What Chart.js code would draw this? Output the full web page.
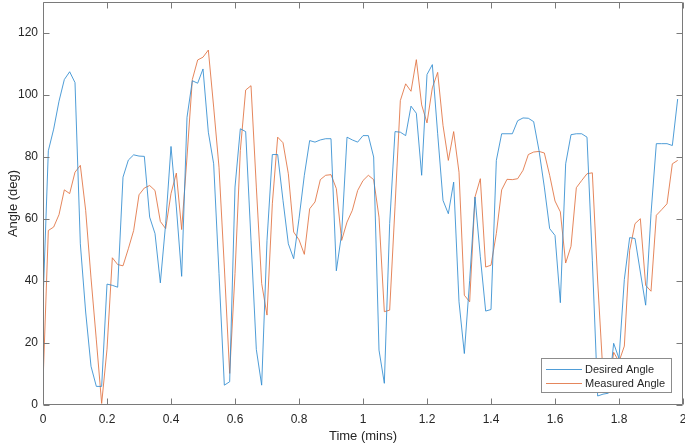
<!DOCTYPE html>
<html>
<head>
<meta charset="utf-8">
<script src="https://cdn.jsdelivr.net/npm/chart.js@4"></script>
<style>
html,body{margin:0;padding:0;background:#fff;}
canvas{display:block;}
</style>
</head>
<body>
<canvas id="c" width="685" height="444"></canvas>
<script>
// Sample grid: one sample per second over 2 minutes (x in minutes)
const sampleCount = 120;
const timeMins = Array.from({length: sampleCount}, (_, i) => i / 60);

const desiredAngle = [
  33, 82, 89, 98, 105, 107.5, 104, 52, 30, 12.5,
  6, 6, 39, 38.6, 38, 73.5, 79, 80.7, 80.3, 80.2,
  60.6, 55.3, 39.4, 58.5, 83.4, 63.9, 41.5, 92.8, 104.6, 103.8,
  108.4, 88, 77.8, 42.4, 6.4, 7.5, 70.3, 89.1, 88.2, 53.1,
  17.9, 6.4, 53.1, 80.8, 80.8, 66, 52, 47.2, 60.1, 74.1,
  85.3, 84.8, 85.5, 85.9, 85.9, 43.3, 55.3, 86.4, 85.5, 84.8,
  86.9, 86.9, 80, 17.7, 7, 58.5, 88.2, 88, 86.9, 96.4,
  94.1, 74.1, 106.6, 109.8, 87.5, 66, 61.7, 71.9, 33.3, 16.6,
  40.2, 67.1, 47.8, 30.3, 30.8, 78.9, 87.5, 87.5, 87.5, 91.7,
  92.6, 92.5, 91.4, 82.1, 70.3, 56.9, 54.7, 33, 77.8, 87.2,
  87.5, 87.5, 86.4, 46.7, 2.9, 3.5, 3.8, 19.9, 15, 40.5,
  54, 53.7, 42.9, 32.2, 61.7, 84.3, 84.3, 84.3, 83.7, 98.7
];

const measuredAngle = [
  7, 56.3, 57.4, 61.4, 69.4, 68.2, 75.1, 77.3, 62.8, 41,
  21, 0.5, 18, 47.5, 45.3, 44.9, 50.4, 56.3, 67.8, 70,
  70.8, 69.2, 59.2, 56.9, 68.2, 74.8, 56.6, 80, 105, 111.3,
  112.2, 114.5, 96.1, 76.7, 44.5, 10.2, 42.4, 82.1, 101.6, 103,
  70.3, 39.2, 29, 64.9, 86.4, 84.6, 74.6, 55.8, 53.3, 48.6,
  63.3, 65.5, 72.7, 74.1, 74.3, 69.8, 53.1, 59, 62.8, 69.2,
  72.4, 74.1, 72.7, 60.6, 30.1, 30.6, 63.9, 98.2, 103.6, 101.2,
  111.4, 96.8, 91, 102.3, 107.3, 90.2, 78.9, 88.2, 75.1, 35.4,
  33.3, 67.1, 73, 44.5, 45.1, 55.3, 69.4, 72.8, 72.7, 73,
  75.7, 80.8, 81.6, 81.8, 81.3, 74.1, 65.8, 62.3, 45.8, 51.2,
  70.1, 72.4, 74.6, 74.9, 40, 10, 4, 17, 14, 19,
  49.9, 58.5, 60.1, 38.6, 36.7, 61.2, 63, 64.9, 77.8, 78.9
];

const xTicks = [0, 0.2, 0.4, 0.6, 0.8, 1, 1.2, 1.4, 1.6, 1.8, 2];
const xTickLabels = ['0', '0.2', '0.4', '0.6', '0.8', '1', '1.2', '1.4', '1.6', '1.8', '2'];
const yTicks = [0, 20, 40, 60, 80, 100, 120];
const yTickLabels = ['0', '20', '40', '60', '80', '100', '120'];
const seriesNames = ['Desired Angle', 'Measured Angle'];
const seriesColors = ['#2f8bd0', '#e0703f'];

const AXIS_COLOR = '#7a7a7a';
const TEXT_COLOR = '#262626';
const FONT = 'Arial, "Liberation Sans", Helvetica, sans-serif';
const LINE_W = 0.85;

const boxTicksPlugin = {
  id: 'boxTicks',
  afterDatasetsDraw(chart) {
    const {ctx, chartArea: a, scales: {x, y}} = chart;
    ctx.save();
    ctx.strokeStyle = AXIS_COLOR;
    ctx.lineWidth = 1;
    ctx.beginPath();
    const L = Math.round(a.left) + 0.5, R = Math.round(a.right) - 0.5;
    const T = Math.round(a.top) + 0.5, B = Math.round(a.bottom) - 0.5;
    ctx.rect(L, T, R - L, B - T);
    const tl = 6;
    xTicks.forEach(v => {
      const px = Math.round(x.getPixelForValue(v)) + 0.5;
      ctx.moveTo(px, B); ctx.lineTo(px, B - tl);
      ctx.moveTo(px, T); ctx.lineTo(px, T + tl);
    });
    yTicks.forEach(v => {
      const py = Math.round(y.getPixelForValue(v)) + 0.5;
      ctx.moveTo(L, py); ctx.lineTo(L + tl, py);
      ctx.moveTo(R, py); ctx.lineTo(R - tl, py);
    });
    ctx.stroke();

    // Legend box (inside plot, bottom-right)
    const lx = 541.5, ly = 358.5, lw = 130, lh = 34;
    ctx.fillStyle = '#ffffff';
    ctx.fillRect(lx, ly, lw, lh);
    ctx.strokeStyle = '#8c8c8c';
    ctx.strokeRect(lx, ly, lw, lh);
    ctx.font = '11px ' + FONT;
    ctx.textBaseline = 'middle';
    ctx.textAlign = 'left';
    const rows = [369.5, 383.5];
    seriesNames.forEach((name, i) => {
      ctx.strokeStyle = seriesColors[i];
      ctx.lineWidth = LINE_W;
      ctx.beginPath();
      ctx.moveTo(546, rows[i]);
      ctx.lineTo(582, rows[i]);
      ctx.stroke();
      ctx.fillStyle = TEXT_COLOR;
      ctx.fillText(name, 585, rows[i] + 0.5);
    });
    ctx.restore();
  }
};

function zeroPad(s) {
  s.paddingTop = 0; s.paddingBottom = 0; s.paddingLeft = 0; s.paddingRight = 0;
}

new Chart(document.getElementById('c'), {
  type: 'line',
  data: {
    labels: timeMins,
    datasets: seriesNames.map((name, i) => ({
      label: name,
      data: (i === 0 ? desiredAngle : measuredAngle).map((v, k) => ({x: timeMins[k], y: v})),
      borderColor: seriesColors[i],
      backgroundColor: seriesColors[i],
      borderWidth: LINE_W,
      pointRadius: 0,
      tension: 0,
      fill: false
    }))
  },
  options: {
    responsive: false,
    devicePixelRatio: 1,
    animation: false,
    layout: {padding: {top: 2, right: 2, left: 0, bottom: 0}},
    plugins: {legend: {display: false}, tooltip: {enabled: false}},
    scales: {
      x: {
        type: 'linear',
        min: 0,
        max: 2,
        afterBuildTicks: s => { s.ticks = xTicks.map(v => ({value: v})); },
        afterFit: s => { s.height = 39; zeroPad(s); },
        grid: {display: false, drawTicks: false},
        border: {display: false},
        ticks: {
          padding: 7,
          color: TEXT_COLOR,
          font: {size: 12, family: FONT},
          maxRotation: 0,
          autoSkip: false,
          callback: (v) => xTickLabels[xTicks.findIndex(t => Math.abs(t - v) < 1e-9)]
        },
        title: {
          display: true,
          text: 'Time (mins)',
          color: TEXT_COLOR,
          font: {size: 13, family: FONT},
          padding: {top: 0, bottom: 0}
        }
      },
      y: {
        type: 'linear',
        min: 0,
        max: 130,
        afterBuildTicks: s => { s.ticks = yTicks.map(v => ({value: v})); },
        afterFit: s => { s.width = 43; zeroPad(s); },
        grid: {display: false, drawTicks: false},
        border: {display: false},
        ticks: {
          padding: 5,
          color: TEXT_COLOR,
          font: {size: 12, family: FONT},
          autoSkip: false,
          callback: (v) => yTickLabels[yTicks.indexOf(v)]
        },
        title: {
          display: true,
          text: 'Angle (deg)',
          color: TEXT_COLOR,
          font: {size: 13, family: FONT},
          padding: {top: 6, bottom: 0}
        }
      }
    }
  },
  plugins: [boxTicksPlugin]
});
</script>
</body>
</html>
